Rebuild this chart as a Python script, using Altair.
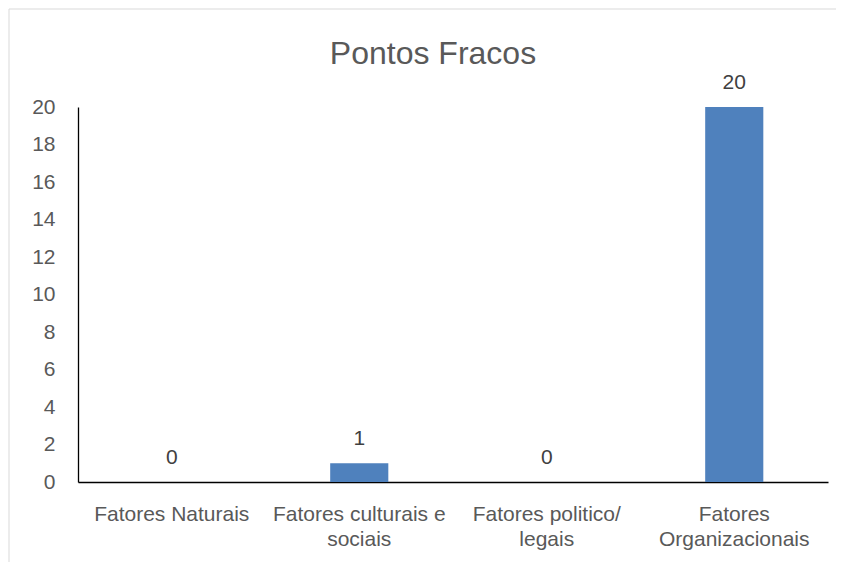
import altair as alt
import pandas as pd

categories = ["Fatores Naturais", "Fatores culturais e sociais", "Fatores politico/ legais", "Fatores Organizacionais"]
label_lines = [["Fatores Naturais"], ["Fatores culturais e", "sociais"], ["Fatores politico/", "legais"], ["Fatores", "Organizacionais"]]
values = [0, 1, 0, 20]
y_ticks = [0, 2, 4, 6, 8, 10, 12, 14, 16, 18, 20]
title_text = "Pontos Fracos"

df = pd.DataFrame({"cat": categories, "val": values})

label_map = "{" + ", ".join("'%s': [%s]" % (c, ", ".join("'%s'" % s for s in l)) for c, l in zip(categories, label_lines)) + "}"

FONT = "Liberation Sans, Arial, sans-serif"

x_enc = alt.X("cat:N", sort=categories,
              scale=alt.Scale(paddingInner=0.69, paddingOuter=0.345),
              axis=alt.Axis(title=None, labelAngle=0, ticks=False, domainColor="#000000",
                            domainWidth=1.3, labelColor="#595959", labelFontSize=21,
                            labelFont=FONT, labelPadding=21, labelLineHeight=25,
                            labelExpr=label_map + "[datum.value]", labelLimit=300))
y_enc = alt.Y("val:Q", scale=alt.Scale(domain=[0, 20]),
              axis=alt.Axis(title=None, values=y_ticks, ticks=False, grid=False,
                            labelOverlap=False,
                            domainColor="#000000", domainWidth=1.3, labelColor="#595959",
                            labelFontSize=21, labelFont=FONT, labelPadding=23))

base = alt.Chart(df)
bars = base.mark_bar(color="#4F81BD").encode(x=x_enc, y=y_enc)
texts = base.mark_text(dy=-18, baseline="alphabetic", fontSize=21, color="#404040", font=FONT).encode(
    x=x_enc, y=y_enc, text="val:Q")

title = alt.Chart(pd.DataFrame({"t": [title_text]})).mark_text(
    fontSize=32, color="#595959", font=FONT, align="center", baseline="alphabetic").encode(
    x=alt.value(355), y=alt.value(-43), text="t:N")

border = alt.Chart(pd.DataFrame({"a": [0]})).mark_rect(
    fill=None, stroke="#d9d9d9", strokeWidth=1).encode(
    x=alt.value(-69), x2=alt.value(832), y=alt.value(-98), y2=alt.value(472))

chart = alt.layer(border, bars, texts, title).properties(
    width=750, height=375,
    padding={"left": 70, "top": 99, "right": 8, "bottom": 80},
    autosize="none",
).configure_view(stroke=None)

chart.save("out.html", embed_options={"renderer": "svg", "actions": False})
